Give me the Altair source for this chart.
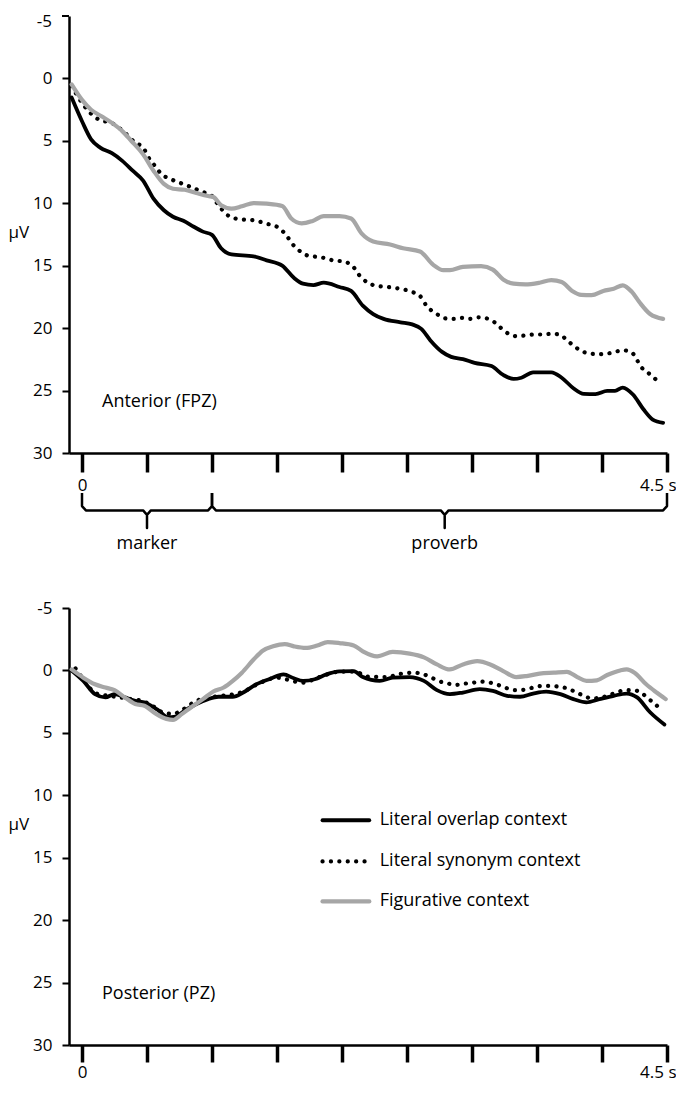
import altair as alt
import pandas as pd

FONT = "Open Sans"
FS = 17      # tick labels
FS_TXT = 18  # annotations / legend

# ---------------- Data (time in s, amplitude in microvolts) ----------------
# Anterior (FPZ)
ant_overlap_t = [-0.08, 0.00, 0.07, 0.14, 0.23, 0.31, 0.39, 0.47, 0.55, 0.63, 0.70, 0.78, 0.86, 0.93, 1.00,
                 1.07, 1.15, 1.32, 1.42, 1.54, 1.63, 1.70, 1.78, 1.86, 1.98, 2.07, 2.16, 2.24, 2.32, 2.45,
                 2.54, 2.61, 2.68, 2.77, 2.84, 2.93, 3.02, 3.15, 3.24, 3.32, 3.38, 3.47, 3.61, 3.69, 3.78,
                 3.86, 3.95, 4.04, 4.10, 4.16, 4.24, 4.32, 4.39, 4.47]
ant_overlap_v = [1.53, 3.43, 4.88, 5.54, 5.99, 6.60, 7.39, 8.18, 9.63, 10.56, 11.08, 11.40, 11.88, 12.27, 12.53,
                 13.60, 14.10, 14.25, 14.57, 14.99, 15.97, 16.44, 16.55, 16.36, 16.70, 17.02, 18.20, 18.87, 19.26, 19.53,
                 19.70, 20.06, 20.98, 21.90, 22.30, 22.48, 22.78, 23.04, 23.75, 24.07, 23.97, 23.54, 23.54, 23.97, 24.81,
                 25.26, 25.28, 25.02, 25.02, 24.76, 25.34, 26.52, 27.32, 27.58]

ant_synonym_t = [-0.08, 0.02, 0.11, 0.25, 0.33, 0.41, 0.47, 0.52, 0.56, 0.61, 0.68, 0.74, 0.81, 0.87, 0.93,
                 0.98, 1.06, 1.11, 1.18, 1.24, 1.31, 1.37, 1.43, 1.50, 1.56, 1.63, 1.68, 1.74, 1.81, 1.87,
                 1.93, 2.00, 2.07, 2.15, 2.20, 2.27, 2.33, 2.39, 2.47, 2.54, 2.60, 2.65, 2.73, 2.79, 2.86,
                 2.92, 2.98, 3.05, 3.11, 3.18, 3.23, 3.28, 3.34, 3.41, 3.47, 3.55, 3.61, 3.68, 3.73, 3.78,
                 3.83, 3.91, 3.97, 4.04, 4.10, 4.16, 4.23, 4.27, 4.30, 4.36, 4.41]
ant_synonym_v = [0.60, 2.24, 3.17, 3.69, 4.35, 5.15, 5.54, 6.47, 6.99, 7.65, 8.05, 8.31, 8.58, 8.84, 9.10,
                 9.24, 10.29, 10.87, 11.22, 11.30, 11.35, 11.48, 11.66, 11.88, 12.41, 13.40, 13.86, 14.20, 14.30, 14.39,
                 14.57, 14.65, 14.91, 15.97, 16.36, 16.63, 16.68, 16.76, 16.89, 17.10, 17.42, 18.21, 18.87, 19.21, 19.26,
                 19.18, 19.26, 19.13, 19.21, 19.58, 20.06, 20.45, 20.64, 20.59, 20.51, 20.51, 20.45, 20.53, 20.98, 21.38,
                 21.77, 22.04, 22.09, 22.04, 21.90, 21.77, 21.96, 22.57, 23.09, 23.62, 24.07]

ant_figurative_t = [-0.08, 0.00, 0.07, 0.15, 0.23, 0.31, 0.38, 0.47, 0.55, 0.63, 0.70, 0.79, 0.88, 0.97, 1.01,
                    1.07, 1.15, 1.23, 1.32, 1.42, 1.54, 1.61, 1.69, 1.77, 1.86, 1.98, 2.07, 2.15, 2.24, 2.37,
                    2.47, 2.60, 2.70, 2.78, 2.83, 2.93, 3.07, 3.16, 3.24, 3.32, 3.41, 3.52, 3.61, 3.69, 3.77,
                    3.84, 3.92, 4.01, 4.09, 4.16, 4.23, 4.29, 4.37, 4.47]
ant_figurative_v = [0.48, 1.72, 2.51, 3.03, 3.56, 4.22, 5.01, 6.07, 7.39, 8.45, 8.84, 8.92, 9.18, 9.42, 9.50,
                    10.16, 10.43, 10.24, 9.98, 10.03, 10.21, 11.22, 11.61, 11.43, 11.03, 11.03, 11.22, 12.41, 13.06, 13.30,
                    13.60, 13.86, 14.91, 15.36, 15.36, 15.10, 15.04, 15.31, 16.10, 16.44, 16.50, 16.36, 16.15, 16.31, 17.02,
                    17.34, 17.36, 17.02, 16.84, 16.57, 17.10, 17.95, 18.87, 19.26]

# Posterior (PZ)
pos_overlap_t = [-0.08, 0.01, 0.10, 0.18, 0.25, 0.33, 0.41, 0.50, 0.59, 0.66, 0.72, 0.79, 0.88, 0.97, 1.05,
                 1.16, 1.24, 1.34, 1.45, 1.55, 1.63, 1.70, 1.79, 1.88, 1.98, 2.09, 2.16, 2.29, 2.39, 2.52,
                 2.63, 2.73, 2.83, 2.93, 3.06, 3.16, 3.27, 3.37, 3.47, 3.57, 3.68, 3.78, 3.88, 3.98, 4.09,
                 4.19, 4.27, 4.37, 4.48]
pos_overlap_v = [0.00, 0.84, 1.90, 2.16, 1.90, 2.16, 2.43, 2.64, 3.22, 3.75, 3.69, 3.22, 2.69, 2.30, 2.11,
                 2.11, 1.77, 1.11, 0.66, 0.32, 0.63, 0.84, 0.71, 0.32, 0.08, 0.05, 0.53, 0.84, 0.58, 0.53,
                 0.84, 1.58, 1.90, 1.77, 1.50, 1.64, 2.03, 2.11, 1.85, 1.69, 1.90, 2.30, 2.56, 2.30, 2.03,
                 1.85, 2.16, 3.35, 4.33]

pos_synonym_t = [-0.05, 0.01, 0.10, 0.18, 0.25, 0.38, 0.46, 0.52, 0.64, 0.70, 0.77, 0.83, 0.88, 0.95, 1.07,
                 1.14, 1.24, 1.35, 1.50, 1.57, 1.64, 1.72, 1.78, 1.88, 1.98, 2.10, 2.20, 2.36, 2.42, 2.48,
                 2.55, 2.61, 2.68, 2.74, 2.81, 2.87, 2.95, 3.01, 3.07, 3.14, 3.20, 3.27, 3.33, 3.39, 3.47,
                 3.54, 3.60, 3.66, 3.73, 3.79, 3.86, 3.92, 3.98, 4.05, 4.11, 4.18, 4.24, 4.31, 4.36, 4.41,
                 4.45]
pos_synonym_v = [-0.16, 0.70, 1.80, 2.00, 2.10, 2.30, 2.43, 2.69, 3.43, 3.48, 3.17, 2.75, 2.43, 2.24, 2.03,
                 1.96, 1.70, 1.10, 0.58, 0.71, 0.90, 0.98, 0.71, 0.35, 0.10, 0.10, 0.50, 0.53, 0.32, 0.24,
                 0.18, 0.26, 0.53, 0.84, 1.03, 1.16, 1.05, 0.98, 0.90, 0.98, 1.16, 1.43, 1.58, 1.56, 1.37,
                 1.24, 1.24, 1.29, 1.43, 1.69, 2.03, 2.24, 2.20, 2.00, 1.77, 1.58, 1.58, 1.85, 2.30, 2.69,
                 3.17]

pos_figurative_t = [-0.08, 0.01, 0.10, 0.18, 0.25, 0.33, 0.41, 0.48, 0.57, 0.65, 0.70, 0.77, 0.84, 0.93, 1.01,
                    1.09, 1.16, 1.23, 1.32, 1.39, 1.47, 1.56, 1.63, 1.72, 1.81, 1.89, 1.98, 2.09, 2.16, 2.27,
                    2.39, 2.52, 2.63, 2.73, 2.83, 2.93, 3.04, 3.14, 3.24, 3.34, 3.42, 3.52, 3.63, 3.73, 3.81,
                    3.88, 3.96, 4.04, 4.14, 4.19, 4.25, 4.34, 4.42, 4.49]
pos_figurative_v = [-0.08, 0.58, 1.11, 1.37, 1.58, 2.16, 2.69, 2.83, 3.48, 3.88, 3.96, 3.48, 2.95, 2.30, 1.69,
                    1.37, 0.84, 0.18, -0.87, -1.58, -1.93, -2.11, -1.93, -1.80, -2.00, -2.27, -2.19, -2.00, -1.53, -1.13,
                    -1.48, -1.35, -1.05, -0.48, -0.08, -0.48, -0.74, -0.48, 0.05, 0.53, 0.45, 0.26, 0.18, 0.11, 0.53,
                    0.84, 0.79, 0.37, 0.00, -0.08, 0.18, 1.11, 1.77, 2.30]

series_names = ["Literal overlap context", "Literal synonym context", "Figurative context"]
panel_labels = ["Anterior (FPZ)", "Posterior (PZ)"]
x_tick_values = [0, 0.5, 1.0, 1.5, 2.0, 2.5, 3.0, 3.5, 4.0, 4.5]
y_tick_values = [-5, 0, 5, 10, 15, 20, 25, 30]
segment_names = ["marker", "proverb"]
segment_starts = [0.0, 1.0]
segment_ends = [1.0, 4.5]
segment_centers = [0.5, 2.79]
legend_levels = [12.0, 15.3, 18.5]

# ---------------- Styles ----------------
STYLES = {
    "Literal overlap context": dict(color="#000000", strokeWidth=3.8, strokeCap="round"),
    "Literal synonym context": dict(color="#000000", strokeWidth=4.2, strokeCap="round", strokeDash=[0.1, 8.3]),
    "Figurative context": dict(color="#a6a6a6", strokeWidth=4.2, strokeCap="round"),
}

W, H = 598, 437
X_MIN, X_MAX = -0.1, 4.5
xscale = alt.Scale(domain=[X_MIN, X_MAX], nice=False, zero=False)
yscale = alt.Scale(domain=[-5, 30], reverse=True, nice=False, zero=False)


def x_axis(top_panel):
    return alt.Axis(
        values=x_tick_values, title=None, grid=False,
        labelExpr="datum.value == 0 ? '0' : (datum.value == 4.5 ? '4.5 s' : '')",
        tickSize=19 if top_panel else 17, tickWidth=3.5, tickColor="black",
        domainColor="black", domainWidth=2.5,
        labelFont=FONT, labelFontSize=FS, labelColor="black",
        labelPadding=5 if top_panel else 2, labelFlush=True, labelFlushOffset=9,
        labelOverlap=False,
    )


def y_axis(top_panel):
    vals = y_tick_values[1:] if top_panel else y_tick_values
    return alt.Axis(
        values=vals, grid=False, title="μV", titleAngle=0, titleAlign="left",
        titleBaseline="middle", titleX=-61, titleY=216, titleFont=FONT, titleFontSize=FS,
        titleFontWeight="normal", titleColor="black",
        tickSize=7, tickWidth=2, tickColor="black", domainColor="black", domainWidth=2.5,
        labelFont=FONT, labelFontSize=FS, labelColor="black", labelPadding=10,
        labelExpr="'' + datum.value",
    )


def panel(series_data, label, top_panel):
    X = alt.X("t:Q", scale=xscale, axis=x_axis(top_panel))
    Y = alt.Y("v:Q", scale=yscale, axis=y_axis(top_panel))
    layers = []
    for name, (ts, vs) in zip(series_names, series_data):
        df = pd.DataFrame({"t": ts, "v": vs})
        layers.append(
            alt.Chart(df).mark_line(interpolate="monotone", **STYLES[name]).encode(x=X, y=Y)
        )
    lab = pd.DataFrame({"t": [0.154], "v": [25.9], "label": [label]})
    layers.append(
        alt.Chart(lab).mark_text(align="left", baseline="middle", font=FONT, fontSize=FS_TXT, color="black")
        .encode(x=X, y=Y, text="label:N")
    )
    if top_panel:
        # "-5" tick and label kept inside the page (label top-aligned to its tick)
        tick_len = 7 * (X_MAX - X_MIN) / W
        m5t = pd.DataFrame({"t": [X_MIN - tick_len], "t2": [X_MIN], "v": [-5]})
        layers.append(
            alt.Chart(m5t).mark_rule(color="black", strokeWidth=2, clip=False)
            .encode(x=X, x2="t2:Q", y=Y)
        )
        m5 = pd.DataFrame({"t": [X_MIN - 17 * (X_MAX - X_MIN) / W], "v": [-5], "label": ["-5"]})
        layers.append(
            alt.Chart(m5).mark_text(align="right", baseline="top", font=FONT, fontSize=FS, color="black",
                                    clip=False, dy=-2)
            .encode(x=X, y=Y, text="label:N")
        )
        rows = []
        for k, (a, b, c) in enumerate(zip(segment_starts, segment_ends, segment_centers)):
            pts = [(a, 33.2), (a, 34.25), (a + 0.03, 34.6), (c - 0.03, 34.6), (c, 34.95), (c, 36.0),
                   (c, 34.95), (c + 0.03, 34.6), (b - 0.03, 34.6), (b, 34.25), (b, 33.2)]
            for i, (t, v) in enumerate(pts):
                rows.append({"t": t, "v": v, "brace": k, "o": i})
        bdf = pd.DataFrame(rows)
        layers.append(
            alt.Chart(bdf).mark_line(color="black", strokeWidth=2.5, strokeJoin="round", clip=False)
            .encode(x=X, y=Y, detail="brace:N", order="o:Q")
        )
        tdf = pd.DataFrame({"t": segment_centers, "v": [37.3, 37.3], "label": segment_names})
        layers.append(
            alt.Chart(tdf).mark_text(align="center", baseline="middle", font=FONT, fontSize=FS_TXT,
                                     color="black")
            .encode(x=X, y=Y, text="label:N")
        )
    else:
        rows = []
        rows_txt = []
        for name, vv in zip(series_names, legend_levels):
            rows.append({"t": 1.85, "v": vv, "s": name})
            rows.append({"t": 2.21, "v": vv, "s": name})
            rows_txt.append({"t": 2.29, "v": vv, "s": name})
        ldf = pd.DataFrame(rows)
        for name in series_names:
            layers.append(
                alt.Chart(ldf[ldf.s == name]).mark_line(**STYLES[name]).encode(x=X, y=Y)
            )
        layers.append(
            alt.Chart(pd.DataFrame(rows_txt)).mark_text(align="left", baseline="middle", font=FONT,
                                                        fontSize=FS_TXT, color="black")
            .encode(x=X, y=Y, text="s:N")
        )
    return alt.layer(*layers).properties(width=W, height=H)


top = panel([(ant_overlap_t, ant_overlap_v), (ant_synonym_t, ant_synonym_v),
             (ant_figurative_t, ant_figurative_v)], panel_labels[0], True)
bottom = panel([(pos_overlap_t, pos_overlap_v), (pos_synonym_t, pos_synonym_v),
                (pos_figurative_t, pos_figurative_v)], panel_labels[1], False)

chart = alt.vconcat(top, bottom, spacing=45).properties(
    padding={"top": 5, "bottom": 5, "left": 0, "right": 0}, background="white"
).configure_view(stroke=None)

chart.save("out.html", embed_options={"renderer": "svg", "actions": False})
